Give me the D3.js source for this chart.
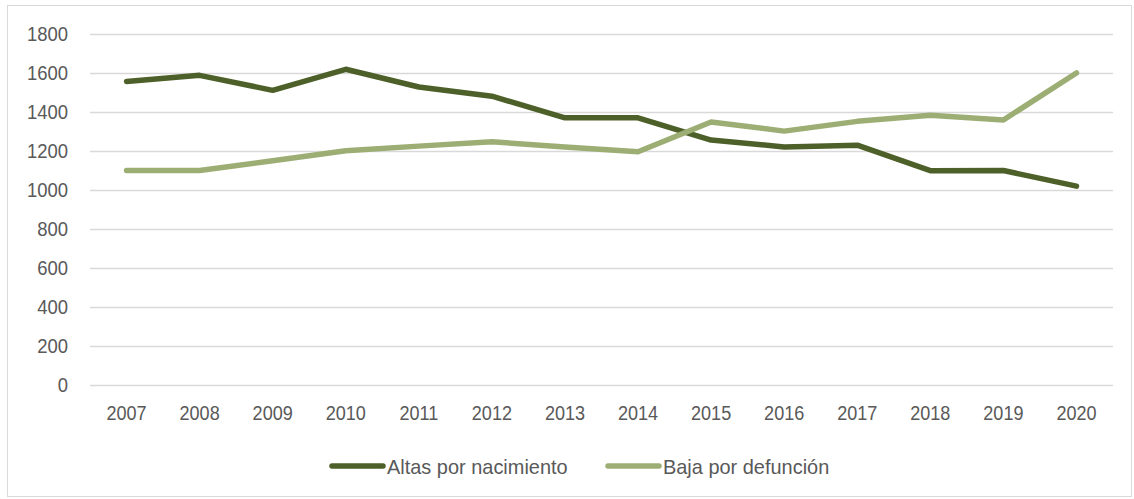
<!DOCTYPE html>
<html>
<head>
<meta charset="utf-8">
<script src="https://cdn.jsdelivr.net/npm/d3@7"></script>
<style>
  body { margin: 0; background: #fff; }
  svg text { font-family: "Liberation Sans", Arial, sans-serif; fill: #595959; transform-box: fill-box; }
  .y-lbl text { transform-origin: right center; transform: scaleX(0.88); }
  .x-lbl text { transform-origin: center center; transform: scaleX(0.86); }
  .legend text { transform-origin: left center; transform: scaleX(0.95); }
</style>
</head>
<body>
<div id="chart"></div>
<script>
// Data
const years = ['2007', '2008', '2009', '2010', '2011', '2012', '2013', '2014', '2015', '2016', '2017', '2018', '2019', '2020'];
const altasNacimiento = [1557, 1588, 1511, 1619, 1528, 1481, 1370, 1370, 1256, 1221, 1230, 1099, 1100, 1020];
const bajaDefuncion = [1100, 1100, 1150, 1201, 1225, 1247, 1221, 1196, 1349, 1302, 1352, 1383, 1359, 1600];
const yTicks = [0, 200, 400, 600, 800, 1000, 1200, 1400, 1600, 1800];
const seriesNames = ['Altas por nacimiento', 'Baja por defunción'];

const width = 1134, height = 499;
const colors = ['#4e6029', '#9dae74'];

const svg = d3.select('#chart').append('svg')
    .attr('width', width)
    .attr('height', height);

// Outer frame
svg.append('rect')
    .attr('x', 7.5).attr('y', 5.5)
    .attr('width', 1124).attr('height', 491)
    .attr('fill', 'none')
    .attr('stroke', '#d9d9d9')
    .attr('stroke-width', 1);

// Scales
const x = d3.scaleBand()
    .domain(years)
    .range([90, 1113]);

const y = d3.scaleLinear()
    .domain([0, 1800])
    .range([385, 34]);

// Gridlines
svg.append('g')
    .selectAll('line')
    .data(yTicks)
    .enter().append('line')
    .attr('x1', 90).attr('x2', 1113)
    .attr('y1', d => Math.round(y(d)) + 0.5)
    .attr('y2', d => Math.round(y(d)) + 0.5)
    .attr('stroke', '#d9d9d9')
    .attr('stroke-width', 1.3);

// Y axis labels
const yAxis = d3.axisLeft(y).tickValues(yTicks).tickSize(0).tickPadding(0).tickFormat(d3.format('d'));
svg.append('g')
    .attr('class', 'y-lbl')
    .attr('transform', 'translate(68,0)')
    .call(yAxis)
    .call(g => g.select('.domain').remove())
    .selectAll('text')
    .attr('font-size', 21)
    .attr('font-family', null)
    .attr('fill', '#595959');

// X axis labels
const xAxis = d3.axisBottom(x).tickSize(0).tickPadding(0);
svg.append('g')
    .attr('class', 'x-lbl')
    .attr('transform', 'translate(0,403)')
    .call(xAxis)
    .call(g => g.select('.domain').remove())
    .selectAll('text')
    .attr('font-size', 21)
    .attr('font-family', null)
    .attr('dy', '0.8em')
    .attr('fill', '#595959');

// Lines
const line = d3.line()
    .x((d, i) => x(years[i]) + x.bandwidth() / 2)
    .y(d => y(d));

[altasNacimiento, bajaDefuncion].forEach((values, i) => {
    svg.append('path')
        .datum(values)
        .attr('d', line)
        .attr('fill', 'none')
        .attr('stroke', colors[i])
        .attr('stroke-width', 5.5)
        .attr('stroke-linejoin', 'round')
        .attr('stroke-linecap', 'round');
});

// Legend
const legendX = [330, 606];
const legend = svg.append('g').attr('class', 'legend');
seriesNames.forEach((name, i) => {
    legend.append('line')
        .attr('x1', legendX[i] + 2).attr('x2', legendX[i] + 53)
        .attr('y1', 466).attr('y2', 466)
        .attr('stroke', colors[i])
        .attr('stroke-width', 5.5)
        .attr('stroke-linecap', 'round');
    legend.append('text')
        .attr('x', legendX[i] + 57)
        .attr('y', 466)
        .attr('dy', '0.36em')
        .attr('font-size', 21)
        .text(name);
});
</script>
</body>
</html>
